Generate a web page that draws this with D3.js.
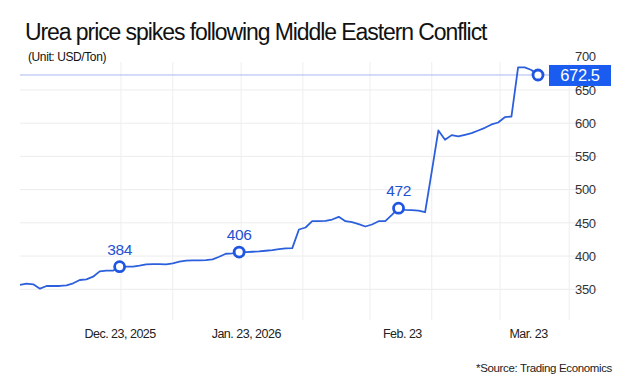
<!DOCTYPE html>
<html>
<head>
<meta charset="utf-8">
<script src="https://cdn.jsdelivr.net/npm/d3@7"></script>
<style>
  body { margin: 0; background: #fff; }
  text { font-family: "Liberation Sans", Arial, sans-serif; }
</style>
</head>
<body>
<script>
// data (one point per trading session)
var prices = [356.5, 358.5, 357.5, 351, 355, 355, 355, 356, 359, 364, 365, 369, 377, 378, 378,
    384, 384, 384, 385.5, 387.5, 388, 388, 387.5, 389, 391.5, 393, 393.5, 393.5, 394, 395, 399,
    403.5, 404, 406, 406, 406.5, 407, 408, 409, 410.5, 411.5, 412, 440, 443, 452.5, 452.5, 453,
    455, 459, 452.5, 451, 448, 444.5, 447.5, 452.5, 452.5, 462, 472, 469.5, 469, 468.5, 466, 527,
    589, 575, 582, 580, 582.5, 585, 589, 593, 598, 601, 609, 610, 684, 684, 680, 672.5];
var markIdx = [15, 33, 57],
    markLabels = ['384', '406', '472'];
var lastLabel = '672.5';
var tickIdx = [15, 34, 57.5, 76.5],
    tickLabels = ['Dec. 23, 2025', 'Jan. 23, 2026', 'Feb. 23', 'Mar. 23'];
var gridIdx = [15.2, 23, 33.3, 42.6, 52.7, 62, 72.3, 82.7];
var yTicks = [350, 400, 450, 500, 550, 600, 650, 700];

var width = 620, height = 380;
var blue = '#2c5fdc';

var x = d3.scaleLinear().domain([0, prices.length - 1]).range([20, 538]),
    y = d3.scaleLinear().domain([350, 700]).range([289.3, 56.7]);

var svg = d3.select('body').append('svg')
    .attr('width', width)
    .attr('height', height);

// title
svg.append('text')
    .attr('x', 25).attr('y', 40)
    .attr('font-size', 23)
    .attr('letter-spacing', '-1.08px')
    .attr('fill', '#111')
    .text('Urea price spikes following Middle Eastern Conflict');
svg.append('text')
    .attr('x', 28).attr('y', 61)
    .attr('font-size', 12)
    .attr('letter-spacing', '-0.4px')
    .attr('fill', '#111')
    .text('(Unit: USD/Ton)');

// grid
svg.append('g').selectAll('line')
    .data(yTicks.filter(function(d) { return d < 700; }))
  .enter().append('line')
    .attr('x1', 20).attr('x2', 598)
    .attr('y1', function(d) { return y(d); })
    .attr('y2', function(d) { return y(d); })
    .attr('stroke', '#ececec');
svg.append('g').selectAll('line')
    .data(gridIdx)
  .enter().append('line')
    .attr('x1', function(d) { return x(d); })
    .attr('x2', function(d) { return x(d); })
    .attr('y1', 62).attr('y2', 320)
    .attr('stroke', '#efefef');

// current value line
var last = prices[prices.length - 1];
svg.append('line')
    .attr('x1', 20).attr('x2', 560)
    .attr('y1', y(last)).attr('y2', y(last))
    .attr('stroke', '#a8b9ee');

// axes
var yAxis = d3.axisRight(y).tickValues(yTicks).tickSize(0).tickPadding(0);
svg.append('g')
    .attr('transform', 'translate(575,0)')
    .call(yAxis)
    .call(function(g) { g.select('.domain').remove(); })
    .selectAll('text')
    .attr('font-size', 13)
    .attr('font-family', '"Liberation Sans", Arial, sans-serif')
    .attr('letter-spacing', '-0.3px')
    .attr('fill', '#333');

var xAxis = d3.axisBottom(x).tickValues(tickIdx)
    .tickFormat(function(d, i) { return tickLabels[i]; })
    .tickSize(0).tickPadding(8);
svg.append('g')
    .attr('transform', 'translate(0,321)')
    .call(xAxis)
    .call(function(g) { g.select('.domain').remove(); })
    .selectAll('text')
    .attr('font-size', 12.5)
    .attr('font-family', '"Liberation Sans", Arial, sans-serif')
    .attr('letter-spacing', '-0.5px')
    .attr('fill', '#222');

// price line
var line = d3.line()
    .x(function(d, i) { return x(i); })
    .y(function(d) { return y(d); });
svg.append('path')
    .datum(prices)
    .attr('d', line)
    .attr('fill', 'none')
    .attr('stroke', blue)
    .attr('stroke-width', 1.8)
    .attr('stroke-linejoin', 'round');

// markers
var marks = markIdx.concat([prices.length - 1]);
svg.append('g').selectAll('circle')
    .data(marks)
  .enter().append('circle')
    .attr('cx', function(d) { return x(d); })
    .attr('cy', function(d) { return y(prices[d]); })
    .attr('r', 5)
    .attr('fill', '#fff')
    .attr('stroke', '#1f55e0')
    .attr('stroke-width', 2.8);
svg.append('g').selectAll('text')
    .data(markIdx)
  .enter().append('text')
    .attr('x', function(d) { return x(d); })
    .attr('y', function(d) { return y(prices[d]) - 12; })
    .attr('text-anchor', 'middle')
    .attr('font-size', 15.5)
    .attr('letter-spacing', '-0.4px')
    .attr('fill', '#2450d2')
    .text(function(d, i) { return markLabels[i]; });

// last value box
svg.append('rect')
    .attr('x', 549).attr('y', y(last) - 10)
    .attr('width', 62).attr('height', 21)
    .attr('fill', '#1a5cf0');
svg.append('text')
    .attr('x', 580).attr('y', y(last) + 6)
    .attr('text-anchor', 'middle')
    .attr('font-size', 16.5)
    .attr('letter-spacing', '-0.4px')
    .attr('fill', '#fff')
    .text(lastLabel);

// source
svg.append('text')
    .attr('x', 612).attr('y', 372)
    .attr('text-anchor', 'end')
    .attr('font-size', 11.5)
    .attr('letter-spacing', '-0.35px')
    .attr('fill', '#222')
    .text('*Source: Trading Economics');
</script>
</body>
</html>
